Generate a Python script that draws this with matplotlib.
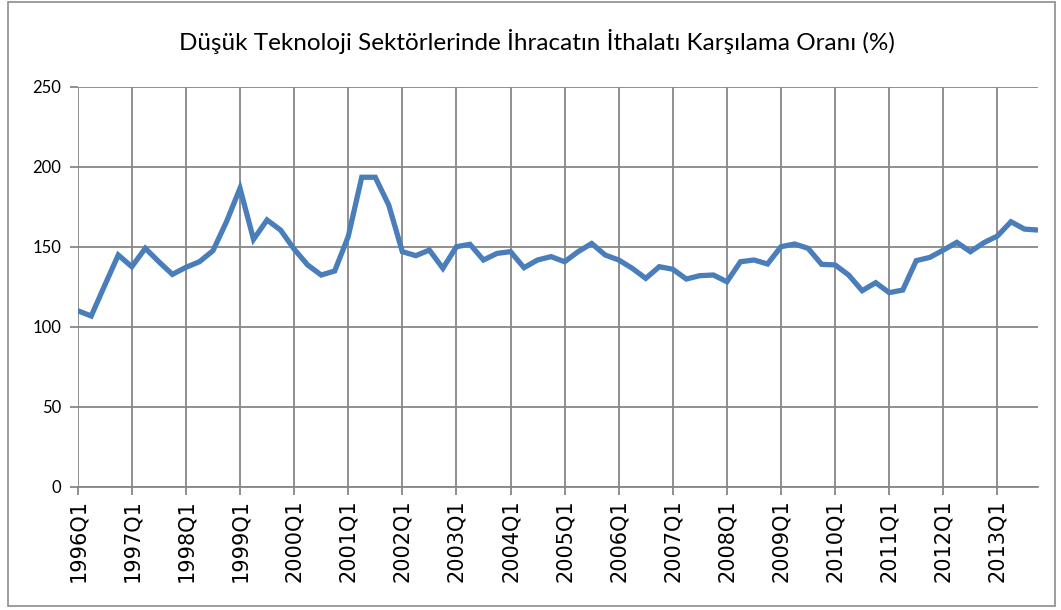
import numpy as np
import matplotlib.pyplot as plt
from matplotlib.patches import Rectangle

# quarterly ratios, 1996Q1 .. 2013Q4
years = list(range(1996, 2014))
ratio = [
    110.0, 106.7, 125.9, 144.8,   # 1996
    137.5, 149.0, 140.6, 132.7,   # 1997
    137.1, 140.6, 147.5, 165.6,   # 1998
    186.5, 154.6, 166.7, 160.4,   # 1999
    148.5, 138.6, 132.3, 134.8,   # 2000
    156.3, 193.4, 193.4, 176.0,   # 2001
    146.9, 144.4, 147.9, 136.5,   # 2002
    150.0, 151.5, 141.7, 145.8,   # 2003
    146.9, 136.9, 141.7, 143.8,   # 2004
    140.6, 146.9, 152.0, 144.8,   # 2005
    141.7, 136.5, 130.2, 137.5,   # 2006
    135.9, 129.8, 131.9, 132.3,   # 2007
    128.1, 140.6, 141.7, 139.2,   # 2008
    150.0, 151.7, 149.0, 139.0,   # 2009
    138.6, 132.3, 122.5, 127.5,   # 2010
    121.3, 122.9, 141.3, 143.3,   # 2011
    147.9, 152.7, 146.9, 152.5,   # 2012
    156.7, 165.6, 161.0, 160.4,   # 2013
]
year_labels = [f"{y}Q1" for y in years]
y_ticks = [0, 50, 100, 150, 200, 250]

title = "Düşük Teknoloji Sektörlerinde İhracatın İthalatı Karşılama Oranı (%)"

W, H = 1061, 610
fig = plt.figure(figsize=(W / 100, H / 100), dpi=100)
fig.patch.set_facecolor("white")

# outer chart frame
fig.patches.append(Rectangle((7.5 / W, 1 - 605.5 / H), (1055 - 7.5) / W, (605.5 - 2) / H,
                             transform=fig.transFigure, fill=False,
                             edgecolor="#8c8c8c", linewidth=1.2))

left, right, top, bottom = 77.7, 1038, 86.7, 486.7
ax = fig.add_axes([left / W, 1 - bottom / H, (right - left) / W, (bottom - top) / H])

grid_c = "#878787"
x = np.arange(len(ratio))
ax.plot(x, ratio, color="#4a7ebb", linewidth=3.8, solid_joinstyle="miter", zorder=3)

ax.set_xlim(0, len(ratio) - 1)
ax.set_ylim(0, 250)

ax.set_xticks(np.arange(0, len(ratio), 4))
ax.set_xticklabels(year_labels, rotation=90, fontsize=15, family="DejaVu Sans")
ax.set_yticks(y_ticks)
ax.set_yticklabels([str(v) for v in y_ticks], fontsize=12, family="Lato")

ax.grid(True, color=grid_c, linewidth=1.3)
ax.set_axisbelow(True)
for s in ["top", "right", "left"]:
    ax.spines[s].set_visible(False)
ax.spines["bottom"].set_color(grid_c)
ax.spines["bottom"].set_linewidth(1.3)

ax.tick_params(axis="x", length=6, width=1.3, color=grid_c, pad=3)
ax.tick_params(axis="y", length=6, width=1.3, color=grid_c, pad=6)

fig.text(0.5 * (176 + 897) / W, 1 - 42 / H, title, ha="center", va="center",
         fontsize=17.5, family="Lato", color="#000000")

fig.savefig("out.png", dpi=100, facecolor="white")
